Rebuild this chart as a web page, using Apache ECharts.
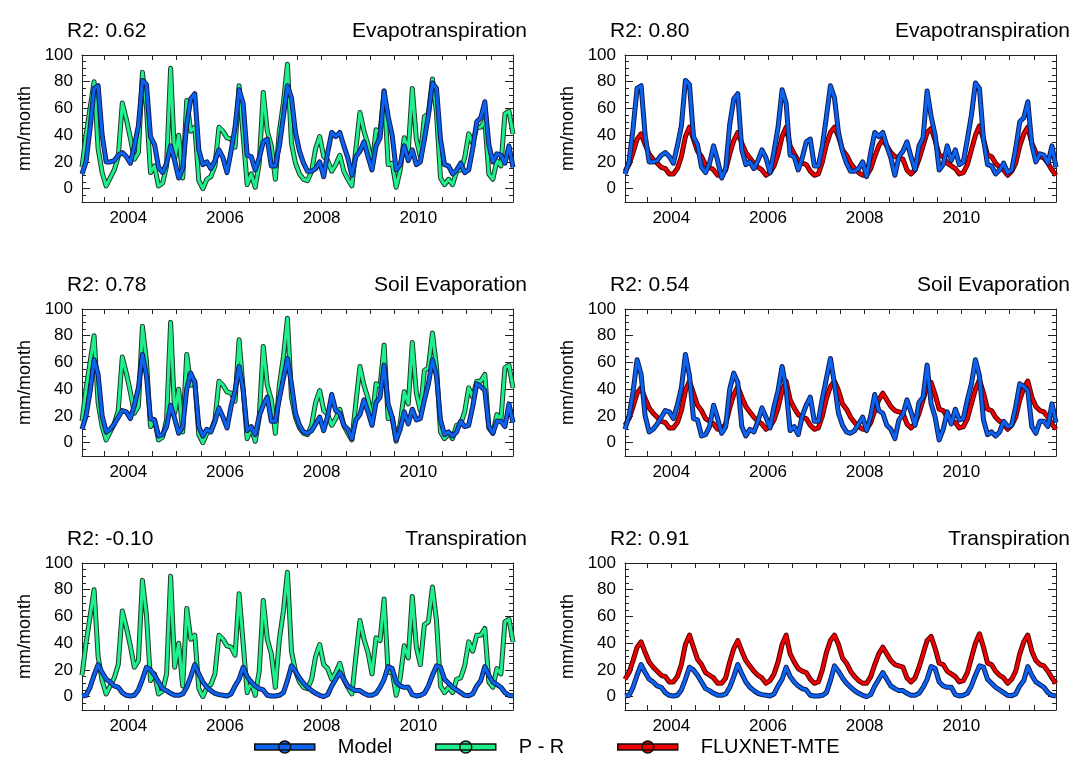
<!DOCTYPE html>
<html>
<head>
<meta charset="utf-8">
<script src="https://cdn.jsdelivr.net/npm/echarts@6/dist/echarts.min.js"></script>
<style>html,body{margin:0;padding:0;background:#fff}#c{width:1075px;height:779px}</style>
</head>
<body>
<div id="c"></div>
<script>
// ---------------- data ----------------
const START_YEAR = 2003;
const N_MONTHS = 108;

const pr = [16, 40, 60, 80, 30, 12, 2, 8, 14, 24, 64, 52,
  38, 22, 27, 87, 61, 12, 17, 2, 4, 17, 90, 22,
  40, 8, 66, 43, 46, 6, 0, 7, 9, 17, 46, 43,
  38, 37, 31, 77, 40, 3, 11, 1, 19, 72, 43, 32,
  7, 43, 64, 93, 34, 19, 11, 7, 6, 13, 30, 39,
  24, 21, 13, 18, 25, 13, 7, 2, 30, 57, 43, 33,
  17, 44, 42, 73, 18, 19, 1, 14, 38, 29, 75, 37,
  24, 54, 56, 82, 57, 8, 3, 7, 3, 13, 14, 23,
  41, 34, 46, 46, 51, 11, 7, 21, 17, 56, 58, 41];

const fluxnet = [13, 18, 27, 37, 41, 33, 26, 22, 19, 16, 15, 11,
  11, 15, 24, 39, 46, 37, 28, 24, 18, 16, 14, 10,
  10, 14, 26, 36, 42, 34, 27, 23, 19, 16, 14, 10,
  12, 17, 26, 39, 46, 32, 26, 21, 19, 18, 13, 10,
  11, 20, 33, 42, 46, 39, 29, 25, 19, 15, 12, 10,
  10, 15, 24, 32, 37, 32, 27, 24, 23, 22, 14, 11,
  14, 22, 32, 42, 45, 36, 25, 24, 19, 17, 15, 11,
  12, 18, 29, 40, 47, 37, 25, 24, 19, 16, 14, 10,
  13, 19, 32, 41, 46, 34, 27, 24, 23, 19, 14, 10];

const modelET = [11, 20, 45, 75, 77, 40, 20, 20, 21, 25, 27, 24,
  19, 32, 47, 81, 78, 39, 33, 16, 12, 19, 32, 21,
  8, 15, 48, 67, 71, 29, 18, 20, 15, 21, 29, 23,
  12, 28, 46, 74, 64, 25, 24, 14, 23, 35, 37, 17,
  17, 32, 54, 77, 68, 42, 28, 19, 13, 13, 15, 20,
  9, 27, 42, 39, 42, 32, 23, 10, 24, 28, 35, 24,
  14, 32, 38, 73, 54, 40, 14, 18, 32, 21, 29, 18,
  20, 37, 55, 79, 75, 37, 18, 17, 11, 14, 19, 12,
  14, 30, 50, 53, 65, 33, 20, 26, 25, 19, 32, 16];

const modelSE = [10, 20, 38, 62, 51, 20, 8, 10, 14, 19, 24, 23,
  18, 28, 41, 66, 50, 18, 17, 5, 6, 12, 28, 18,
  7, 12, 40, 52, 45, 12, 5, 10, 8, 16, 26, 19,
  11, 27, 39, 57, 40, 9, 12, 6, 20, 28, 34, 16,
  16, 33, 48, 63, 44, 22, 13, 8, 7, 9, 14, 19,
  9, 20, 36, 24, 22, 13, 10, 3, 17, 21, 32, 23,
  13, 30, 34, 58, 29, 19, 2, 10, 23, 14, 25, 17,
  18, 32, 44, 62, 50, 17, 6, 8, 5, 8, 16, 12,
  13, 27, 44, 42, 39, 12, 7, 16, 16, 12, 29, 15];

const modelT = [0.5, 1, 7, 16, 24, 18, 13, 11, 8, 7, 3, 1,
  0.5, 1, 5, 13, 22, 20, 16, 11, 6, 4.5, 2.5, 1,
  1, 2, 7, 15, 24, 17, 11, 7, 4.5, 2.5, 1.5, 1,
  0.5, 2, 8, 13, 22, 15, 11, 8, 6, 5, 1, 0.5,
  0.5, 1, 3, 12, 23, 19, 14, 10, 7, 4.5, 2.5, 1,
  0, 1.5, 8, 13, 18, 13, 8, 6, 4.5, 4.5, 2.5, 1,
  1, 2.5, 7, 13, 22.5, 21, 11, 8, 7, 7, 1.5, 0.5,
  1, 2.5, 8, 16, 23, 22, 13, 10, 7, 5, 3, 1,
  0.75, 2, 8, 12, 22.5, 16, 11, 9, 7, 3, 1, 0.5];

const panelNames = ['Evapotranspiration', 'Soil Evaporation', 'Transpiration'];
const r2Left = ['0.62', '0.78', '-0.10'];
const r2Right = ['0.80', '0.54', '0.91'];
const yTickLabels = [0, 20, 40, 60, 80, 100];
const xTickLabels = [2004, 2006, 2008, 2010];
const legendNames = ['Model', 'P - R', 'FLUXNET-MTE'];

// ---------------- styling / layout ----------------
const FONT = 'Liberation Sans, Arial, Helvetica, sans-serif';
const COL = {
  model: {inner: '#0a64f0', outer: '#101a55'},
  pr: {inner: '#1ef08c', outer: '#1c3a28'},
  flux: {inner: '#ee0000', outer: '#4a0000'}
};
const colLeft = [82, 625];
const plotW = 431;
const rowTop = [55, 309, 563];
const plotH = 147;
const W = 1075;

const monthX = Array.from({length: N_MONTHS}, (_, i) => START_YEAR + (i + 0.5) / 12);
const xMin = monthX[0], xMax = monthX[N_MONTHS - 1];
const halfYears = [];
for (let y = START_YEAR + 0.5; y < xMax; y += 0.5) halfYears.push(y);
const minorY = [];
for (let v = -5; v <= 100; v += 5) minorY.push(v);
const pairs = arr => arr.map((v, i) => [monthX[i], v]);

const modelByRow = [modelET, modelSE, modelT];

const grids = [], xAxes = [], yAxes = [], series = [], titles = [];
let g = 0;
for (let r = 0; r < 3; r++) {
  for (let c = 0; c < 2; c++) {
    grids.push({left: colLeft[c], top: rowTop[r], width: plotW, height: plotH, containLabel: false});
    const axLine = {show: true, onZero: false, lineStyle: {color: '#222', width: 1}};
    xAxes.push({
      type: 'value', gridIndex: g, min: xMin, max: xMax, position: 'bottom',
      axisLine: axLine,
      axisTick: {show: true, inside: true, length: 5, customValues: halfYears, lineStyle: {color: '#222'}},
      axisLabel: {show: true, customValues: xTickLabels, formatter: v => String(Math.round(v)),
        fontSize: 17, color: '#000', fontFamily: FONT, margin: 8},
      splitLine: {show: false}
    });
    xAxes.push({
      type: 'value', gridIndex: g, min: xMin, max: xMax, position: 'top',
      axisLine: axLine,
      axisTick: {show: true, inside: true, length: 5, customValues: halfYears, lineStyle: {color: '#222'}},
      axisLabel: {show: false}, splitLine: {show: false}
    });
    yAxes.push({
      type: 'value', gridIndex: g, min: -10, max: 100, interval: 5, position: 'left',
      name: 'mm/month', nameLocation: 'middle', nameGap: 48,
      nameTextStyle: {fontSize: 18, color: '#000', fontFamily: FONT},
      axisLine: axLine,
      axisTick: {show: true, inside: true, length: 8, customValues: yTickLabels, lineStyle: {color: '#222'}},
      axisLabel: {show: true, customValues: yTickLabels, fontSize: 17, color: '#000', fontFamily: FONT, margin: 9},
      splitLine: {show: false}
    });
    yAxes.push({
      type: 'value', gridIndex: g, min: -10, max: 100, position: 'left',
      axisLine: {show: false},
      axisTick: {show: true, inside: true, length: 4, customValues: minorY, lineStyle: {color: '#222'}},
      axisLabel: {show: false}, splitLine: {show: false}
    });
    yAxes.push({
      type: 'value', gridIndex: g, min: -10, max: 100, position: 'right',
      axisLine: axLine,
      axisTick: {show: true, inside: true, length: 8, customValues: yTickLabels, lineStyle: {color: '#222'}},
      axisLabel: {show: false}, splitLine: {show: false}
    });
    yAxes.push({
      type: 'value', gridIndex: g, min: -10, max: 100, position: 'right',
      axisLine: {show: false},
      axisTick: {show: true, inside: true, length: 4, customValues: minorY, lineStyle: {color: '#222'}},
      axisLabel: {show: false}, splitLine: {show: false}
    });

    const comp = c === 0 ? {name: 'P - R', data: pr, col: COL.pr} : {name: 'FLUXNET-MTE', data: fluxnet, col: COL.flux};
    const mdl = {name: 'Model', data: modelByRow[r], col: COL.model};
    [comp, mdl].forEach(s => {
      const base = {type: 'line', xAxisIndex: 2 * g, yAxisIndex: 4 * g, symbol: 'none',
        silent: true, animation: false, data: pairs(s.data)};
      series.push(Object.assign({}, base, {name: s.name + ' outline', lineStyle: {color: s.col.outer, width: 5, join: 'round'}}));
      series.push(Object.assign({}, base, {name: s.name, color: s.col.inner, lineStyle: {color: s.col.inner, width: 3, join: 'round'}}));
    });

    const r2 = c === 0 ? r2Left[r] : r2Right[r];
    const tStyle = {fontSize: 21, fontWeight: 'normal', color: '#000', fontFamily: FONT};
    titles.push({text: 'R2: ' + r2, left: colLeft[c] - 15, top: rowTop[r] - 34, padding: 0, textStyle: tStyle});
    titles.push({text: panelNames[r], right: W - (colLeft[c] + plotW) - 14, top: rowTop[r] - 34, padding: 0, textStyle: tStyle});
    g++;
  }
}

const iconPath = 'path://M0,3L60,3L60,9L0,9Z M24,6A6,6,0,1,1,36,6A6,6,0,1,1,24,6Z';
const legendColors = [COL.model, COL.pr, COL.flux];
const legendLeft = [254, 435, 617];
const legends = legendNames.map((n, k) => ({
  left: legendLeft[k], top: 737, itemWidth: 60, itemHeight: 12, padding: 0,
  selectedMode: false,
  textStyle: {fontSize: 20, color: '#000', fontFamily: FONT, padding: [0, 0, 0, 18]},
  data: [{name: n, icon: iconPath, itemStyle: {color: legendColors[k].inner, borderColor: '#111', borderWidth: 1.5}}]
}));

const chart = echarts.init(document.getElementById('c'), null, {renderer: 'canvas'});
chart.setOption({
  backgroundColor: '#fff',
  animation: false,
  title: titles,
  legend: legends,
  grid: grids,
  xAxis: xAxes,
  yAxis: yAxes,
  series: series
});
</script>
</body>
</html>
